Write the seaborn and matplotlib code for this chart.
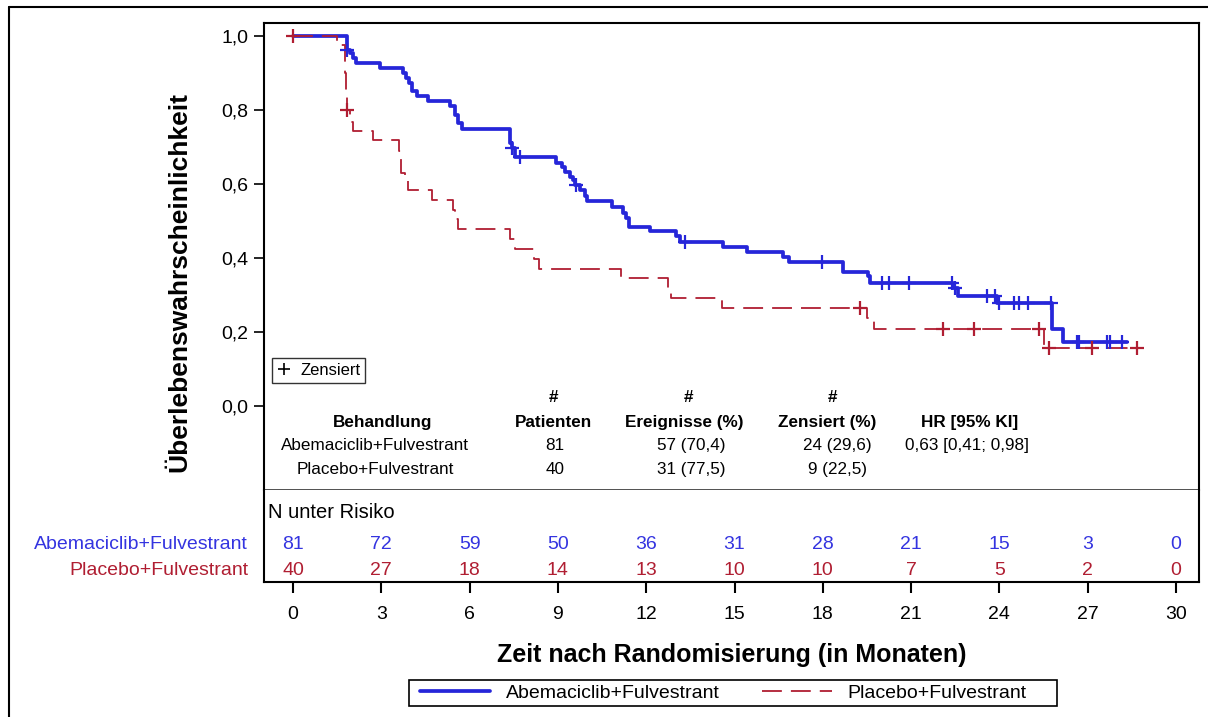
import numpy as np
import pandas as pd
import matplotlib
matplotlib.use("Agg")
import matplotlib.pyplot as plt
import matplotlib.transforms as mtransforms
from matplotlib.lines import Line2D
from matplotlib.patches import Rectangle
import seaborn as sns

sns.set_style("white")
plt.rcParams['font.family'] = ['Liberation Sans', 'DejaVu Sans']
plt.rcParams['text.color'] = 'black'
plt.rcParams['axes.labelcolor'] = 'black'
plt.rcParams['xtick.color'] = 'black'
plt.rcParams['ytick.color'] = 'black'

# Kaplan-Meier step data
abema_t = [0, 1.82, 1.95, 2.05, 2.15, 2.96, 3.75, 3.85, 3.95, 4.05, 4.22, 4.58, 5.33, 5.50, 5.62, 5.73,
           7.37, 7.45, 7.55, 8.94, 9.15, 9.25, 9.40, 9.50, 9.58, 9.75, 9.92, 9.98, 10.85, 11.22, 11.30,
           11.40, 12.13, 13.00, 13.15, 14.62, 15.41, 16.66, 16.85, 18.70, 19.52, 19.60, 22.41, 22.60,
           23.91, 25.78, 26.15, 28.33]
abema_s = [1.0, 0.962, 0.953, 0.94, 0.926, 0.913, 0.90, 0.886, 0.872, 0.851, 0.838, 0.825, 0.811, 0.786,
           0.764, 0.749, 0.71, 0.696, 0.674, 0.658, 0.647, 0.632, 0.62, 0.61, 0.597, 0.584, 0.567, 0.554,
           0.539, 0.521, 0.507, 0.485, 0.473, 0.459, 0.444, 0.431, 0.417, 0.404, 0.39, 0.361, 0.35, 0.333,
           0.318, 0.297, 0.277, 0.207, 0.174, 0.174]
abema_cens = [1.85, 7.45, 7.71, 9.60, 13.32, 17.96, 20.0, 20.25, 20.93, 22.38, 22.50, 23.57, 23.85, 23.97,
              24.50, 24.65, 24.96, 25.74, 26.63, 26.71, 27.67, 27.76, 28.16]

plac_t = [0, 1.48, 1.75, 1.78, 1.80, 1.83, 1.92, 2.05, 2.73, 3.61, 3.68, 3.80, 3.92, 4.73, 5.43, 5.50,
          5.60, 7.37, 7.55, 8.20, 8.35, 11.13, 12.75, 12.85, 14.59, 19.49, 19.74, 25.53, 28.84]
plac_s = [1.0, 0.975, 0.95, 0.90, 0.85, 0.80, 0.768, 0.743, 0.719, 0.69, 0.629, 0.611, 0.584, 0.557, 0.53,
          0.505, 0.477, 0.45, 0.424, 0.397, 0.371, 0.345, 0.32, 0.293, 0.266, 0.237, 0.207, 0.156, 0.156]
plac_cens = [0, 1.85, 19.27, 22.08, 23.15, 25.35, 25.70, 27.16, 28.67]

arms = ['Abemaciclib+Fulvestrant', 'Placebo+Fulvestrant']
risk_times = [0, 3, 6, 9, 12, 15, 18, 21, 24, 27, 30]
abema_risk = [81, 72, 59, 50, 36, 31, 28, 21, 15, 3, 0]
plac_risk = [40, 27, 18, 14, 13, 10, 10, 7, 5, 2, 0]

patients = ['81', '40']
events = ['57 (70,4)', '31 (77,5)']
censored = ['24 (29,6)', '9 (22,5)']
hr = ['0,63 [0,41; 0,98]', '']

blue = '#2626d9'
red = '#b01e32'
blue_txt = '#3434e0'


def surv_at(times, surv, t):
    idx = np.searchsorted(times, t, side='right') - 1
    return np.asarray(surv)[idx]


W, H = 1208, 717
fig = plt.figure(figsize=(W / 100, H / 100), dpi=100)

def fx(px):
    return px / W

def fy(py):
    return 1 - py / H

ax = fig.add_axes([fx(264), fy(490), fx(1199) - fx(264), fy(23) - fy(490)])
axr = fig.add_axes([fx(264), fy(582), fx(1199) - fx(264), fy(490) - fy(582)], sharex=ax)

# curves
df_a = pd.DataFrame({'t': abema_t, 's': abema_s})
df_p = pd.DataFrame({'t': plac_t, 's': plac_s})
sns.lineplot(data=df_a, x='t', y='s', ax=ax, color=blue, lw=2.7, drawstyle='steps-post',
             estimator=None, errorbar=None, zorder=3)
sns.lineplot(data=df_p, x='t', y='s', ax=ax, color=red, lw=1.3, drawstyle='steps-post',
             linestyle=(0, (11, 5)), estimator=None, errorbar=None, zorder=4)

cens_a = pd.DataFrame({'t': abema_cens, 's': surv_at(abema_t, abema_s, abema_cens)})
cens_p = pd.DataFrame({'t': plac_cens, 's': surv_at(plac_t, plac_s, plac_cens)})
sns.scatterplot(data=cens_a, x='t', y='s', ax=ax, marker='+', s=110, color=blue, linewidth=1.6, zorder=5)
sns.scatterplot(data=cens_p, x='t', y='s', ax=ax, marker='+', s=110, color=red, linewidth=1.6, zorder=6)

ax.set_xlim(-0.985, 30.78)
ax.set_ylim(-0.227, 1.035)
ax.set_yticks([0, 0.2, 0.4, 0.6, 0.8, 1.0])
ax.yaxis.set_major_formatter(plt.FuncFormatter(lambda v, _: f"{v:.1f}".replace('.', ',')))
ax.tick_params(axis='y', direction='out', length=7, width=1.2, labelsize=14, left=True, pad=4)
ax.tick_params(axis='x', bottom=False, labelbottom=False)
ax.set_xlabel('')
ax.set_ylabel('Überlebenswahrscheinlichkeit', fontsize=19, fontweight='bold')
ax.yaxis.set_label_coords(-0.078, 0.445)
for side in ['left', 'top', 'right']:
    ax.spines[side].set_color('black')
    ax.spines[side].set_linewidth(1.5)
ax.spines['bottom'].set_color('#333333')
ax.spines['bottom'].set_linewidth(1.2)

# censor legend box
cens_handle = Line2D([], [], marker='+', color='black', linestyle='none', markersize=9, markeredgewidth=1.2)
ax.legend([cens_handle], ['Zensiert'], loc='upper left', bbox_to_anchor=(0.0086, 0.283),
          frameon=True, fancybox=False, edgecolor='black', fontsize=12, handlelength=0.8,
          handletextpad=0.6, borderpad=0.3, borderaxespad=0)
ax.get_legend().get_frame().set_linewidth(1.0)

# summary table inside the plot
def dx(px):
    return (px - 293) / 29.43

def dy(py):
    return (406 - py) / 370

tkw = dict(ha='center', va='center', fontsize=12.3)
bkw = dict(tkw, fontweight='bold')
for xpx in [553, 688, 832]:
    ax.text(dx(xpx), dy(398), '#', **bkw)
headers = ['Behandlung', 'Patienten', 'Ereignisse (%)', 'Zensiert (%)', 'HR [95% KI]']
for xpx, h in zip([383, 553, 684, 827, 970], headers):
    ax.text(dx(xpx), dy(422), h, **bkw)
for i, ypx in enumerate([445, 469]):
    ax.text(dx(375), dy(ypx), arms[i], **tkw)
    ax.text(dx(555), dy(ypx), patients[i], **tkw)
    ax.text(dx(691), dy(ypx), events[i], **tkw)
    ax.text(dx(837), dy(ypx), censored[i], **tkw)
    ax.text(dx(967), dy(ypx), hr[i], **tkw)

# at-risk table
axr.set_ylim(0, 1)
axr.set_yticks([])
axr.set_xticks(risk_times)
axr.tick_params(axis='x', direction='out', length=8, width=1.5, labelsize=14, pad=9,
                bottom=True, labelbottom=True)
for side in ['left', 'bottom', 'right']:
    axr.spines[side].set_color('black')
    axr.spines[side].set_linewidth(1.5)
axr.spines['top'].set_visible(False)
axr.set_xlabel('Zeit nach Randomisierung (in Monaten)', fontsize=18, fontweight='bold', labelpad=15)
axr.set_ylabel('')

trans = mtransforms.blended_transform_factory(axr.transData, axr.transAxes)
axr.text(0.004, 0.76, 'N unter Risiko', transform=axr.transAxes, ha='left', va='center', fontsize=14.5)
for t, na, npl in zip(risk_times, abema_risk, plac_risk):
    axr.text(t, 0.413, str(na), transform=trans, ha='center', va='center', fontsize=14, color=blue_txt)
    axr.text(t, 0.13, str(npl), transform=trans, ha='center', va='center', fontsize=14, color=red)
axr.text(-0.017, 0.413, arms[0], transform=axr.transAxes, ha='right', va='center', fontsize=14, color=blue_txt)
axr.text(-0.017, 0.13, arms[1], transform=axr.transAxes, ha='right', va='center', fontsize=14, color=red)

# bottom legend (frame drawn separately)
handles = [Line2D([], [], color=blue, lw=2.7), Line2D([], [], color=red, lw=1.3, linestyle=(0, (11, 5)))]
fig.legend(handles, arms, loc='center left', bbox_to_anchor=(fx(420), fy(693)), ncol=2,
           frameon=False, fontsize=14, handlelength=3.6, columnspacing=2.2,
           handletextpad=0.8, borderpad=0, borderaxespad=0)
fig.add_artist(Rectangle((fx(409), fy(706)), fx(1057) - fx(409), fy(680) - fy(706),
                         transform=fig.transFigure, fill=False, edgecolor='black', lw=1.2))

# outer frame
fig.add_artist(Line2D([fx(9), fx(9)], [fy(7), 0], color='black', lw=1.5))
fig.add_artist(Line2D([fx(9), 1], [fy(7), fy(7)], color='black', lw=1.5))

fig.savefig('out.png', dpi=100)
